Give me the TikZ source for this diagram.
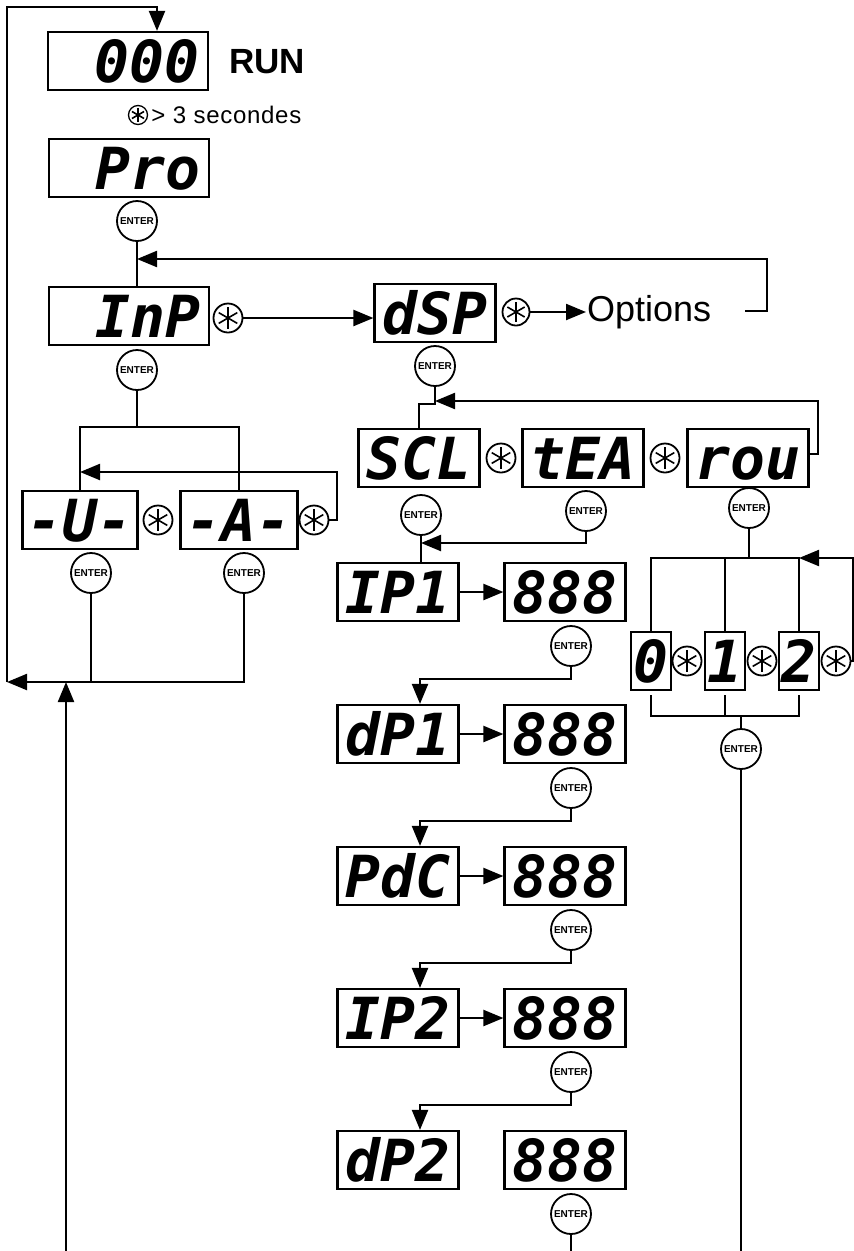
\documentclass[tikz,border=0pt]{standalone}
\usepackage{fontspec}
\setmainfont{Liberation Sans}
\newfontfamily\segfont{DejaVu Sans Mono}
\usetikzlibrary{arrows.meta}
\tikzset{
  disp/.style={draw, minimum width=121pt, minimum height=58pt, inner sep=0pt,
    text height=42pt, text depth=0pt,
    font=\segfont\bfseries\itshape\fontsize{58}{58}\selectfont},
  longdisp/.style={disp, minimum width=160pt, text width=142pt, align=right},
  digit/.style={disp, minimum width=40pt},
  enterkey/.style={circle, draw, line width=1.8pt, minimum size=40pt, inner sep=0pt,
    font=\bfseries\fontsize{10}{10}\selectfont},
  starkey/.style={circle, draw, line width=1.8pt, minimum size=#1, inner sep=0pt,
    path picture={\foreach \a in {90,30,150}
      \draw[line width=1.6pt] ([shift={(\a:0.37*#1)}]path picture bounding box.center)
        -- ([shift={(\a+180:0.37*#1)}]path picture bounding box.center);}},
  starkey/.default=29pt,
  flow/.style={-{Triangle[length=20pt, width=16pt]}}
}
\begin{document}
\begin{tikzpicture}[x=1pt, y=-1pt, line width=2.2pt]
  \useasboundingbox (0,0) rectangle (854,1251); % marges de la page
  % affichage RUN et entree en programmation
  \node[longdisp] (run) at (128,61) {000};
  \node[anchor=west, font=\bfseries\fontsize{35}{35}\selectfont] (runtxt) at (225,62) {RUN};
  \node[starkey=19pt, line width=1.3pt] (hold) at (138,115) {};
  \node[anchor=west, font=\fontsize{24}{24}\selectfont\addfontfeature{LetterSpace=3}] (holdtxt) at (147,115) {> 3 secondes};
  \node[longdisp] (pro) at (129,168) {Pro};
  \node[enterkey] (proent) at (137,221) {ENTER};
  \node[longdisp] (inp) at (129,316) {InP};
  \node[starkey] (inpkey) at (228,318) {};
  \node[enterkey] (inpent) at (137,370) {ENTER};
  \node[disp] (dsp) at (435,313) {dSP};
  \node[starkey=27pt] (dspkey) at (516,312) {};
  \node[anchor=west, inner sep=0pt, font=\fontsize{36}{36}\selectfont] (opt) at (586,312) {Options};
  \coordinate (optgap) at (745,311);
  \coordinate (proloop) at (767,259);
  \draw[flow] (inpkey) -- (inpkey -| dsp.west);
  \draw[flow] (dspkey) -- (dspkey -| opt.west);
  \draw[flow] (optgap) -| (proloop) -- (proloop -| proent.south);
  \draw (proent) -- (proent |- inp.north);
  % entree -U- / -A-
  \node[disp, minimum width=115pt] (volt) at (80,520) {-U-};
  \node[starkey] (voltkey) at (158,520) {};
  \node[disp, minimum width=117pt] (amp) at (239,520) {-A-};
  \node[starkey] (ampkey) at (314,520) {};
  \node[enterkey] (voltent) at (91,573) {ENTER};
  \node[enterkey] (ampent) at (244,573) {ENTER};
  \coordinate (inpsplit) at (137,427);
  \coordinate (voltloop) at (337,472);
  \coordinate (backrun) at (7,682);
  \coordinate (runloop) at (157,7);
  \coordinate (fromend) at (66,1251);
  \draw (inpent) -- (inpsplit);
  \draw (volt.north) |- (inpsplit) -| (amp.north);
  \draw[flow] (ampkey.east) -| (voltloop) -- (voltloop -| volt.north);
  \draw[flow] (ampent) |- (backrun);
  \draw (voltent) -- (voltent |- backrun);
  \draw[flow] (backrun) |- (runloop) -- (runloop |- run.north);
  \draw[flow] (fromend) -- (fromend |- backrun);
  % affichage dSP
  \node[enterkey] (dspent) at (435,366) {ENTER};
  \node[disp] (scl) at (419,458) {SCL};
  \node[starkey] (sclkey) at (501,458) {};
  \node[disp] (tea) at (583,458) {tEA};
  \node[starkey] (teakey) at (665,458) {};
  \node[disp] (rou) at (748,458) {rou};
  \node[enterkey] (sclent) at (421,515) {ENTER};
  \node[enterkey] (teaent) at (586,511) {ENTER};
  \node[enterkey] (rouent) at (749,508) {ENTER};
  \coordinate (dspjoin) at (435,404);
  \coordinate (rouloop) at (818,401);
  \coordinate (teajoin) at (586,543);
  \draw (dspent) -- (dspjoin) -| (scl.north);
  \draw[flow] ([yshift=4pt]rou.east) -| (rouloop) -- (rouloop -| dspent.south);
  \draw[flow] (teaent) -- (teajoin) -- (teajoin -| sclent.south);
  % echelle
  \foreach \lbl [count=\i from 0] in {IP1,dP1,PdC,IP2,dP2}{
    \node[disp] (par\i) at (398,592+142*\i) {\lbl};
    \node[disp] (val\i) at (565,592+142*\i) {888};
    \node[enterkey] (valent\i) at (571,646+142*\i) {ENTER};
  }
  \draw (sclent) -- (sclent |- par0.north);
  \foreach \i in {0,...,3}{
    \pgfmathtruncatemacro\j{\i+1}
    \draw[flow] (par\i) -- (val\i);
    \draw[flow] (valent\i.south) -- ++(0,12) -| ([xshift=22pt]par\j.north);
  }
  \coordinate (valend) at (571,1251);
  \draw (valent4) -- (valent4 |- valend);
  % arrondi
  \node[digit] (dig0) at (651,661) {0};
  \node[starkey] (dig0key) at (687,661) {};
  \node[digit] (dig1) at (725,661) {1};
  \node[starkey] (dig1key) at (762,661) {};
  \node[digit] (dig2) at (799,661) {2};
  \node[starkey] (dig2key) at (836,661) {};
  \node[enterkey] (digent) at (741,749) {ENTER};
  \coordinate (rousplit) at (749,558);
  \coordinate (digloop) at (853,558);
  \coordinate (digjoin) at (741,716);
  \coordinate (digend) at (741,1251);
  \draw (rouent) -- (rousplit);
  \draw (dig0.north) |- (dig2.north |- rousplit) -- (dig2.north);
  \draw (dig1.north) -- (dig1.north |- rousplit);
  \draw[flow] (dig2key.east) -| (digloop) -- (digloop -| dig2.north);
  \draw ([yshift=-4pt]dig0.south) |- (dig2.south |- digjoin) -- ([yshift=-4pt]dig2.south);
  \draw ([yshift=-4pt]dig1.south) -- (dig1.south |- digjoin);
  \draw (digjoin) -- (digent) -- (digent |- digend);
\end{tikzpicture}
\end{document}
